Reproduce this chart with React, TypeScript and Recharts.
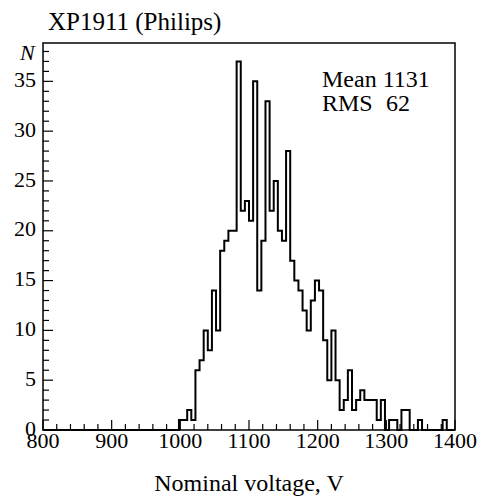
import { LineChart, Line, XAxis, YAxis, ReferenceArea } from 'recharts';

// histogram: 100 bins of 6 V from 800 to 1400
const lowEdge = 800;
const binWidth = 6;
const counts = [
  0, 0, 0, 0, 0, 0, 0, 0, 0, 0,
  0, 0, 0, 0, 0, 0, 0, 0, 0, 0,
  0, 0, 0, 0, 0, 0, 0, 0, 0, 0,
  0, 0, 0, 1, 1, 2, 1, 6, 7, 10,
  8, 14, 10, 18, 19, 20, 20, 37, 22, 23,
  21, 35, 14, 19, 33, 22, 25, 20, 19, 28,
  17, 15, 14, 12, 10, 13, 15, 14, 9, 5,
  10, 5, 2, 3, 6, 2, 3, 4, 3, 3,
  3, 1, 3, 0, 1, 1, 0, 2, 2, 0,
  0, 1, 0, 0, 0, 0, 0, 1, 0, 0,
];

// every 20 V, labels on the hundreds
const xTicks = [
  800, 820, 840, 860, 880, 900, 920, 940, 960, 980, 1000, 1020, 1040, 1060, 1080,
  1100, 1120, 1140, 1160, 1180, 1200, 1220, 1240, 1260, 1280, 1300, 1320, 1340,
  1360, 1380, 1400,
];
// every 1, labels on multiples of 5
const yTicks = [
  0, 1, 2, 3, 4, 5, 6, 7, 8, 9, 10, 11, 12, 13, 14, 15, 16, 17, 18, 19,
  20, 21, 22, 23, 24, 25, 26, 27, 28, 29, 30, 31, 32, 33, 34, 35, 36, 37, 38,
];

const title = 'XP1911 (Philips)';
const xTitle = 'Nominal voltage, V';
const yTitle = 'N';
const meanLabel = 'Mean 1131';
const rmsName = 'RMS';
const rmsValue = '62';

const yMax = 38.85;

const data = counts.map((n, i) => ({ v: lowEdge + i * binWidth, n }));
data.push({ v: lowEdge + counts.length * binWidth, n: counts[counts.length - 1] });

const font = "'Liberation Serif', 'DejaVu Serif', serif";

const XTick = (props: any) => {
  const { x, y, payload } = props;
  const major = payload.value % 100 === 0;
  return (
    <g>
      <line x1={x} x2={x} y1={y} y2={y - (major ? 10 : 6)} stroke="#000" strokeWidth={1.2} />
      {major && (
        <text x={x} y={y + 18} textAnchor="middle" fontFamily={font} fontSize={22} fill="#000">
          {payload.value}
        </text>
      )}
    </g>
  );
};

const YTick = (props: any) => {
  const { x, y, payload } = props;
  const major = payload.value % 5 === 0;
  return (
    <g>
      <line x1={x} x2={x + (major ? 10 : 6)} y1={y} y2={y} stroke="#000" strokeWidth={1.2} />
      {major && (
        <text x={x - 7} y={y - 2} dy="0.35em" textAnchor="end" fontFamily={font} fontSize={22} fill="#000">
          {payload.value}
        </text>
      )}
    </g>
  );
};

export default function App() {
  return (
    <div style={{ position: 'absolute', left: 0, top: 0, width: 483, height: 496, background: '#fff' }}>
      <LineChart width={483} height={496} data={data} margin={{ top: 43, right: 28, bottom: 65, left: 42 }}>
        <XAxis
          dataKey="v"
          type="number"
          domain={[800, 1400]}
          ticks={xTicks}
          interval={0}
          height={1}
          tickSize={0}
          tickMargin={0}
          axisLine={false}
          tickLine={false}
          tick={XTick}
        />
        <YAxis
          type="number"
          domain={[0, yMax]}
          ticks={yTicks}
          interval={0}
          width={1}
          tickSize={0}
          tickMargin={0}
          axisLine={false}
          tickLine={false}
          tick={YTick}
        />
        <ReferenceArea
          x1={800}
          x2={1400}
          y1={0}
          y2={yMax}
          fill="none"
          stroke="#000"
          strokeWidth={1.5}
        />
        <Line
          type="stepAfter"
          dataKey="n"
          stroke="#000"
          strokeWidth={2}
          dot={false}
          activeDot={false}
          isAnimationActive={false}
        />
      </LineChart>
      <svg width={483} height={496} style={{ position: 'absolute', left: 0, top: 0, pointerEvents: 'none' }}>
        <text x={48} y={30} fontFamily={font} fontSize={25} fill="#000">{title}</text>
        <text x={20} y={60} fontFamily={font} fontSize={22} fontStyle="italic" fill="#000">{yTitle}</text>
        <text x={322} y={87} fontFamily={font} fontSize={24} fill="#000">{meanLabel}</text>
        <text x={322} y={111} fontFamily={font} fontSize={24} fill="#000">
          <tspan>{rmsName}</tspan>
          <tspan x={386}>{rmsValue}</tspan>
        </text>
        <text x={249} y={491} textAnchor="middle" fontFamily={font} fontSize={24} fill="#000">{xTitle}</text>
      </svg>
    </div>
  );
}
